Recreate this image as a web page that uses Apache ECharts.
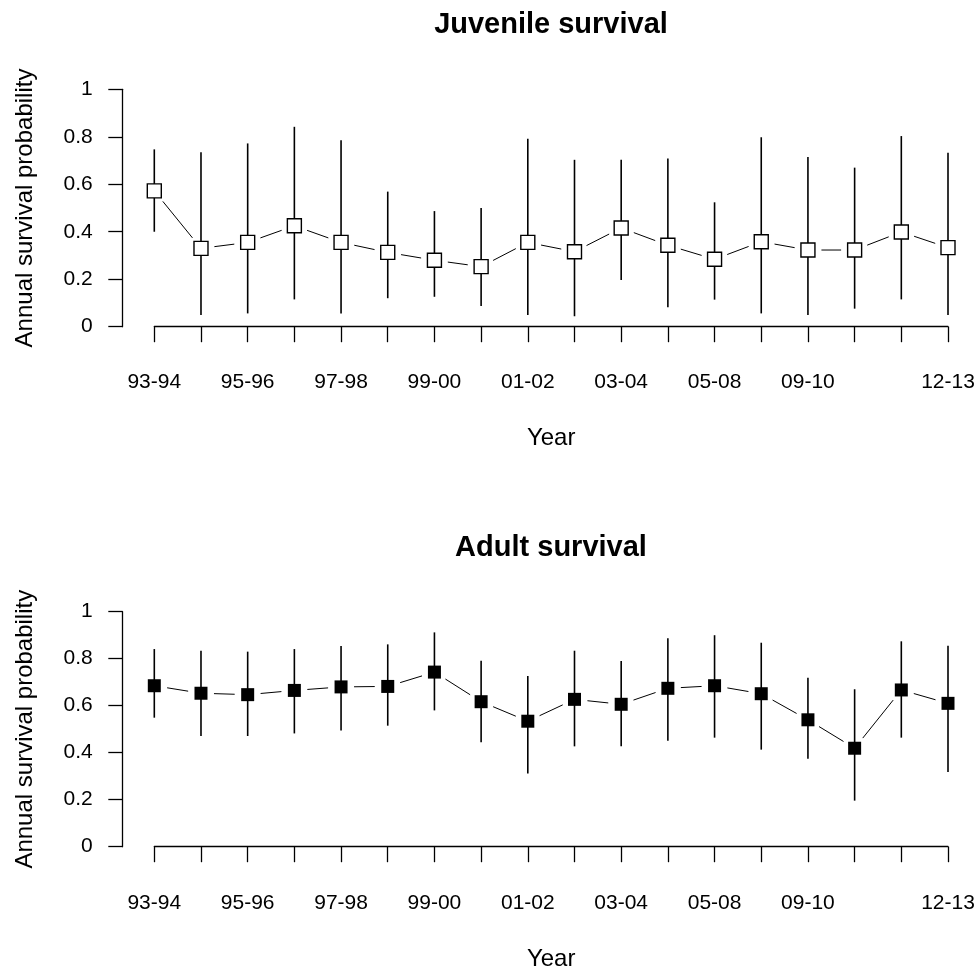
<!DOCTYPE html>
<html>
<head>
<meta charset="utf-8">
<script src="https://cdn.jsdelivr.net/npm/echarts@6/dist/echarts.min.js"></script>
<style>html,body{margin:0;padding:0;background:#fff;}#c{width:980px;height:976px;}</style>
</head>
<body>
<div id="c"></div>
<script>
const years = ['93-94','94-95','95-96','96-97','97-98','98-99','99-00','00-01','01-02','02-03','03-04','04-05','05-08','08-09','09-10','10-11','11-12','12-13'];
const shownLabelIdx = [0,2,4,6,8,10,12,14,17];
const yTicks = [0,0.2,0.4,0.6,0.8,1];

const juvMean = [0.572,0.330,0.355,0.425,0.355,0.313,0.280,0.253,0.355,0.316,0.416,0.343,0.284,0.358,0.323,0.323,0.399,0.333];
const juvLo   = [0.400,0.049,0.056,0.115,0.056,0.120,0.126,0.087,0.049,0.044,0.197,0.082,0.114,0.056,0.049,0.076,0.115,0.049];
const juvHi   = [0.747,0.735,0.772,0.842,0.785,0.569,0.487,0.500,0.792,0.703,0.703,0.709,0.524,0.798,0.715,0.670,0.803,0.733];

const adMean = [0.685,0.653,0.647,0.665,0.680,0.682,0.743,0.617,0.534,0.627,0.606,0.674,0.685,0.651,0.540,0.419,0.667,0.610];
const adLo   = [0.549,0.471,0.471,0.482,0.495,0.515,0.580,0.444,0.311,0.427,0.427,0.451,0.464,0.413,0.374,0.196,0.464,0.318];
const adHi   = [0.841,0.834,0.830,0.841,0.854,0.861,0.912,0.791,0.726,0.834,0.790,0.887,0.900,0.868,0.719,0.670,0.874,0.855];

const FONT = 'Liberation Sans, Arial, sans-serif';
const chart = echarts.init(document.getElementById('c'), null, {renderer:'canvas'});

function xAxisCfg(gridIndex, offset){
  return {
    type:'category', gridIndex, data: years, boundaryGap:false, offset,
    name:'Year', nameLocation:'middle', nameGap:91,
    nameTextStyle:{fontFamily:FONT, fontSize:24, color:'#000'},
    axisLine:{lineStyle:{color:'#000', width:1.3}},
    axisTick:{show:true, length:15.5, interval:0, lineStyle:{color:'#000', width:1.3}},
    axisLabel:{interval:(i)=>shownLabelIdx.indexOf(i)>=0, margin:36, fontFamily:FONT, fontSize:21, color:'#000', hideOverlap:false, showMinLabel:true, showMaxLabel:true},
    splitLine:{show:false}
  };
}
function yAxisCfg(gridIndex){
  return {
    type:'value', gridIndex, min:yTicks[0], max:yTicks[yTicks.length-1], interval:0.2, offset:31.6,
    name:'Annual survival probability', nameLocation:'middle', nameGap:85, nameRotate:90,
    nameTextStyle:{fontFamily:FONT, fontSize:24, color:'#000'},
    axisLine:{show:true, lineStyle:{color:'#000', width:1.3}},
    axisTick:{show:true, length:14.4, lineStyle:{color:'#000', width:1.3}},
    axisLabel:{margin:30, fontFamily:FONT, fontSize:21, color:'#000'},
    splitLine:{show:false}
  };
}

function segSeries(idx, mean, gap){
  const data = [];
  for (let i=0;i<mean.length-1;i++) data.push([i, mean[i], i+1, mean[i+1]]);
  return {
    type:'custom', xAxisIndex:idx, yAxisIndex:idx, data, z:2, silent:true,
    renderItem:(params, api)=>{
      const p1 = api.coord([api.value(0), api.value(1)]);
      const p2 = api.coord([api.value(2), api.value(3)]);
      const dx = p2[0]-p1[0], dy = p2[1]-p1[1];
      const L = Math.sqrt(dx*dx+dy*dy);
      if (L <= 2*gap) return null;
      const ux = dx/L, uy = dy/L;
      return {type:'line', shape:{x1:p1[0]+ux*gap, y1:p1[1]+uy*gap, x2:p2[0]-ux*gap, y2:p2[1]-uy*gap},
        style:{stroke:'#000', lineWidth:1}};
    }
  };
}
function errSeries(idx, lo, hi){
  const data = lo.map((v,i)=>[i, v, hi[i]]);
  return {
    type:'custom', xAxisIndex:idx, yAxisIndex:idx, data, z:3, silent:true,
    renderItem:(params, api)=>{
      const a = api.coord([api.value(0), api.value(1)]);
      const b = api.coord([api.value(0), api.value(2)]);
      return {type:'line', shape:{x1:a[0], y1:a[1], x2:b[0], y2:b[1]}, style:{stroke:'#000', lineWidth:1.6}};
    }
  };
}
function markSeries(idx, mean, filled, size){
  return {
    type:'scatter', xAxisIndex:idx, yAxisIndex:idx, z:4, silent:true,
    data: mean.map((v,i)=>[i,v]), symbol:'rect', symbolSize:size,
    itemStyle: filled ? {color:'#000', borderColor:'#000', borderWidth:0, opacity:1}
                      : {color:'#fff', borderColor:'#000', borderWidth:1.4, opacity:1}
  };
}

chart.setOption({
  animation:false,
  backgroundColor:'#fff',
  title:[
    {text:'Juvenile survival', left:546, top:5, textAlign:'center', textStyle:{fontFamily:FONT, fontSize:29, fontWeight:'bold', color:'#000'}},
    {text:'Adult survival', left:546, top:528, textAlign:'center', textStyle:{fontFamily:FONT, fontSize:29, fontWeight:'bold', color:'#000'}}
  ],
  grid:[
    {left:154.3, right:32, top:89.3, height:237.4, containLabel:false},
    {left:154.3, right:32, top:611.7, height:235, containLabel:false}
  ],
  xAxis:[xAxisCfg(0, 9), xAxisCfg(1, 10)],
  yAxis:[yAxisCfg(0), yAxisCfg(1)],
  series:[
    segSeries(0, juvMean, 13.5), errSeries(0, juvLo, juvHi), markSeries(0, juvMean, false, 14),
    segSeries(1, adMean, 13), errSeries(1, adLo, adHi), markSeries(1, adMean, true, 13)
  ]
});
</script>
</body>
</html>
